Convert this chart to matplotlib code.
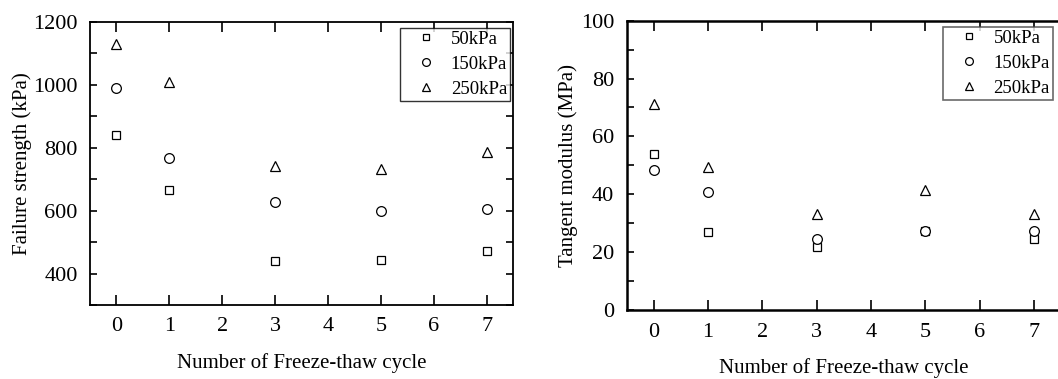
import matplotlib
matplotlib.use("Agg")
import matplotlib.pyplot as plt
from matplotlib.ticker import MultipleLocator

plt.rcParams['font.family'] = ['Liberation Serif', 'DejaVu Serif']

cycles = [0, 1, 3, 5, 7]
pressures = ["50kPa", "150kPa", "250kPa"]
markers = ["s", "o", "^"]
msizes = [6, 7, 7.5]

# failure strength (kPa)
strength_50 = [840, 666, 439, 443, 473]
strength_150 = [989, 767, 628, 598, 606]
strength_250 = [1131, 1010, 743, 732, 785]

# tangent modulus (MPa)
modulus_50 = [53.9, 26.8, 21.8, 27.4, 24.7]
modulus_150 = [48.5, 40.7, 24.4, 27.3, 27.4]
modulus_250 = [71.1, 49.5, 33.2, 41.5, 33.2]


def style_axes(ax, lw):
    for s in ax.spines.values():
        s.set_linewidth(lw)
    ax.tick_params(which='both', direction='in', top=True, right=True,
                   labelsize=16, width=1.2)
    ax.tick_params(axis='x', which='major', length=7, pad=9)
    ax.tick_params(axis='y', which='both', length=5, pad=9)
    ax.xaxis.set_major_locator(MultipleLocator(1))
    ax.set_xlim(-0.5, 7.5)
    ax.set_xlabel("Number of Freeze-thaw cycle", fontsize=15, labelpad=12)


def draw_series(ax, series):
    for vals, lab, mk, ms in zip(series, pressures, markers, msizes):
        ax.plot(cycles, vals, linestyle='none', marker=mk, markersize=ms,
                markerfacecolor='white', markeredgecolor='black',
                markeredgewidth=0.9, label=lab)


def add_legend(ax, anchor, edge, lw):
    leg = ax.legend(loc='upper left', bbox_to_anchor=anchor, borderaxespad=0,
                    fontsize=13.5, frameon=True, fancybox=False, edgecolor=edge,
                    markerscale=0.8, handlelength=2.5, borderpad=0.15,
                    labelspacing=0.42, handletextpad=0.05)
    leg.get_frame().set_linewidth(lw)
    return leg


fig = plt.figure(figsize=(10.58, 3.79), dpi=100)

ax1 = fig.add_axes([0.0851, 0.1953, 0.3998, 0.7467])
draw_series(ax1, [strength_50, strength_150, strength_250])
ax1.set_ylim(300, 1200)
ax1.yaxis.set_minor_locator(MultipleLocator(100))
ax1.set_yticks([400, 600, 800, 1000, 1200])
style_axes(ax1, 1.3)
ax1.set_ylabel("Failure strength (kPa)", fontsize=15, labelpad=1)
add_legend(ax1, (0.733, 0.979), 'black', 1.0)

ax2 = fig.add_axes([0.5923, 0.182, 0.4107, 0.7634])
draw_series(ax2, [modulus_50, modulus_150, modulus_250])
ax2.set_ylim(0, 100)
ax2.yaxis.set_major_locator(MultipleLocator(20))
ax2.yaxis.set_minor_locator(MultipleLocator(10))
style_axes(ax2, 1.8)
ax2.tick_params(which='both', right=False)
ax2.set_ylabel("Tangent modulus (MPa)", fontsize=15, labelpad=2)
add_legend(ax2, (0.728, 0.978), '#444444', 1.2)

fig.savefig("out.png", dpi=100)
